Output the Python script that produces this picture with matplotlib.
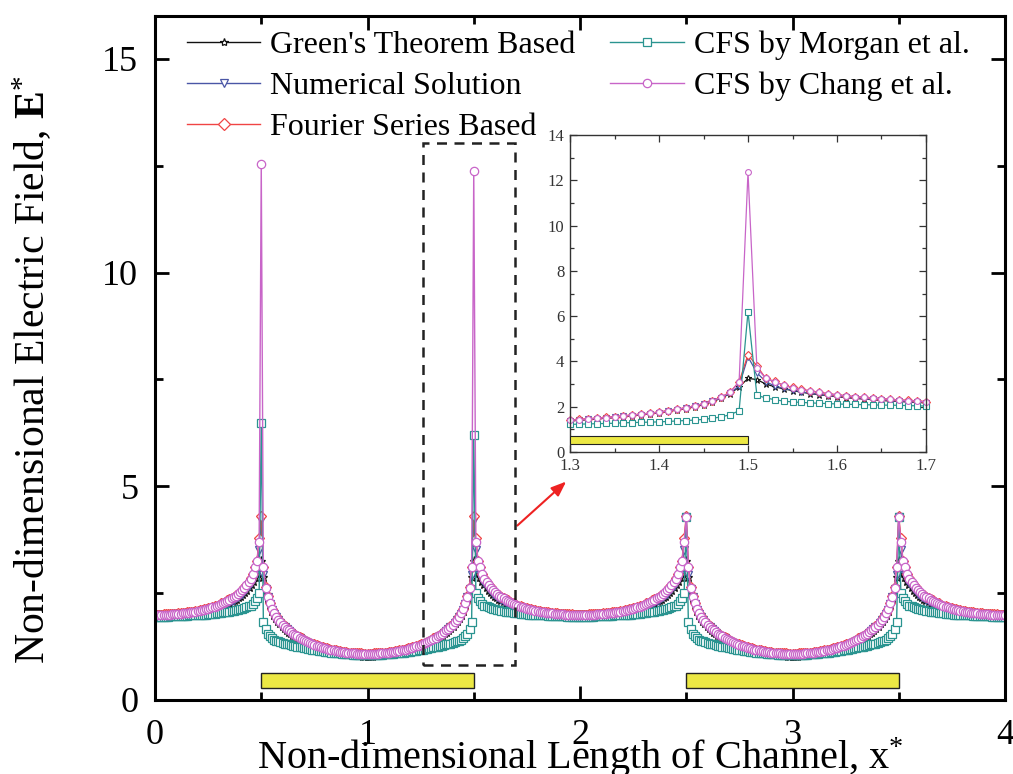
import numpy as np
import matplotlib
matplotlib.use("Agg")
import matplotlib.pyplot as plt
from matplotlib.lines import Line2D
from matplotlib.patches import Rectangle
from matplotlib.ticker import MultipleLocator

plt.rcParams['font.family'] = ['Liberation Serif', 'DejaVu Serif']
plt.rcParams['mathtext.fontset'] = 'custom'
plt.rcParams['mathtext.rm'] = 'Liberation Serif'
plt.rcParams['mathtext.it'] = 'Liberation Serif:italic'
plt.rcParams['mathtext.bf'] = 'Liberation Serif:bold'

# ---------------- data ----------------
# grid of channel positions (step 0.01)
x_vals = np.round(np.arange(0, 401) * 0.01, 2)
electrode_spans = [(0.5, 1.5), (2.5, 3.5)]

series_names = ["Green's Theorem Based", "Numerical Solution", "Fourier Series Based",
                "CFS by Morgan et al.", "CFS by Chang et al."]

# values at electrode edges x = 0.5, 1.5, 2.5, 3.5
green_peaks = [3.25, 3.25, 3.25, 3.25]
numer_peaks = [4.20, 4.20, 4.27, 4.27]
fourier_peaks = [4.30, 4.30, 4.30, 4.30]
morgan_peaks = [6.47, 6.19, 4.27, 4.27]
chang_peaks = [12.54, 12.37, 4.27, 4.27]

# profiles vs distance from an edge (0.01 ... 0.50) on the electrode side
green_elec = [2.87, 2.58, 2.38, 2.22, 2.09, 1.99, 1.92, 1.85, 1.79, 1.73,
              1.69, 1.64, 1.60, 1.56, 1.52, 1.49, 1.46, 1.43, 1.40, 1.37,
              1.35, 1.32, 1.30, 1.28, 1.26, 1.24, 1.23, 1.21, 1.19, 1.18,
              1.17, 1.15, 1.14, 1.13, 1.12, 1.11, 1.10, 1.09, 1.09, 1.08,
              1.07, 1.07, 1.06, 1.06, 1.05, 1.05, 1.05, 1.04, 1.04, 1.04]
numer_elec = [2.92, 2.60, 2.40, 2.24, 2.11, 2.01, 1.93, 1.86, 1.80, 1.74,
              1.70, 1.65, 1.61, 1.57, 1.53, 1.50, 1.47, 1.44, 1.41, 1.38,
              1.36, 1.33, 1.31, 1.29, 1.27, 1.25, 1.24, 1.22, 1.20, 1.19,
              1.18, 1.16, 1.15, 1.14, 1.13, 1.12, 1.11, 1.10, 1.10, 1.09,
              1.08, 1.08, 1.07, 1.07, 1.06, 1.06, 1.06, 1.05, 1.05, 1.05]
fourier_elec = [3.10, 2.65, 2.43, 2.27, 2.14, 2.04, 1.96, 1.89, 1.83, 1.77,
                1.72, 1.68, 1.64, 1.60, 1.56, 1.53, 1.50, 1.47, 1.44, 1.41,
                1.39, 1.36, 1.34, 1.32, 1.30, 1.28, 1.27, 1.25, 1.23, 1.22,
                1.21, 1.19, 1.18, 1.17, 1.16, 1.15, 1.14, 1.13, 1.13, 1.12,
                1.11, 1.11, 1.10, 1.10, 1.09, 1.09, 1.09, 1.08, 1.08, 1.08]
morgan_elec = [1.82, 1.65, 1.55, 1.49, 1.44, 1.41, 1.39, 1.37, 1.35, 1.33,
               1.32, 1.31, 1.30, 1.29, 1.27, 1.26, 1.25, 1.24, 1.23, 1.22,
               1.21, 1.20, 1.19, 1.18, 1.17, 1.16, 1.15, 1.15, 1.14, 1.13,
               1.12, 1.12, 1.11, 1.10, 1.10, 1.09, 1.09, 1.08, 1.08, 1.07,
               1.07, 1.07, 1.06, 1.06, 1.06, 1.06, 1.05, 1.05, 1.05, 1.05]
chang_elec = [3.10, 2.63, 2.42, 2.26, 2.13, 2.03, 1.95, 1.88, 1.82, 1.76,
              1.71, 1.67, 1.63, 1.59, 1.55, 1.52, 1.49, 1.46, 1.43, 1.40,
              1.38, 1.35, 1.33, 1.31, 1.29, 1.27, 1.26, 1.24, 1.22, 1.21,
              1.20, 1.18, 1.17, 1.16, 1.15, 1.14, 1.13, 1.12, 1.12, 1.11,
              1.10, 1.10, 1.09, 1.09, 1.08, 1.08, 1.08, 1.07, 1.07, 1.07]

# profiles vs distance from an edge (0.01 ... 0.50) on the gap side
green_gap = [3.20, 3.00, 2.88, 2.79, 2.71, 2.64, 2.58, 2.53, 2.48, 2.44,
             2.40, 2.37, 2.34, 2.31, 2.28, 2.25, 2.23, 2.21, 2.19, 2.17,
             2.15, 2.14, 2.12, 2.11, 2.10, 2.08, 2.07, 2.06, 2.05, 2.05,
             2.04, 2.03, 2.03, 2.02, 2.02, 2.01, 2.01, 2.01, 2.00, 2.00,
             2.00, 2.00, 1.99, 1.99, 1.99, 1.99, 1.99, 1.99, 1.99, 1.99]
numer_gap = [3.50, 3.10, 2.92, 2.81, 2.73, 2.66, 2.60, 2.54, 2.49, 2.45,
             2.41, 2.38, 2.35, 2.32, 2.29, 2.26, 2.24, 2.22, 2.20, 2.18,
             2.16, 2.15, 2.13, 2.12, 2.11, 2.09, 2.08, 2.07, 2.06, 2.06,
             2.05, 2.04, 2.04, 2.03, 2.03, 2.02, 2.02, 2.02, 2.01, 2.01,
             2.01, 2.01, 2.00, 2.00, 2.00, 2.00, 2.00, 2.00, 2.00, 2.00]
fourier_gap = [3.80, 3.25, 3.12, 2.95, 2.85, 2.77, 2.70, 2.64, 2.58, 2.53,
               2.49, 2.45, 2.42, 2.39, 2.36, 2.33, 2.30, 2.28, 2.26, 2.23,
               2.21, 2.19, 2.18, 2.16, 2.15, 2.13, 2.12, 2.11, 2.10, 2.09,
               2.08, 2.07, 2.06, 2.05, 2.05, 2.04, 2.04, 2.03, 2.03, 2.02,
               2.02, 2.02, 2.01, 2.01, 2.01, 2.01, 2.00, 2.00, 2.00, 2.00]
morgan_gap = [2.50, 2.39, 2.31, 2.25, 2.21, 2.19, 2.17, 2.15, 2.14, 2.12,
              2.11, 2.10, 2.09, 2.08, 2.07, 2.07, 2.06, 2.05, 2.04, 2.03,
              2.03, 2.02, 2.02, 2.01, 2.01, 2.00, 2.00, 2.00, 1.99, 1.99,
              1.99, 1.98, 1.98, 1.98, 1.97, 1.97, 1.97, 1.97, 1.96, 1.96,
              1.96, 1.96, 1.96, 1.95, 1.95, 1.95, 1.95, 1.95, 1.95, 1.95]
chang_gap = [3.70, 3.25, 3.10, 2.94, 2.84, 2.76, 2.69, 2.63, 2.57, 2.52,
             2.48, 2.44, 2.41, 2.38, 2.35, 2.32, 2.29, 2.27, 2.25, 2.22,
             2.20, 2.18, 2.17, 2.15, 2.14, 2.12, 2.11, 2.10, 2.09, 2.08,
             2.07, 2.06, 2.05, 2.04, 2.04, 2.03, 2.03, 2.02, 2.02, 2.01,
             2.01, 2.01, 2.00, 2.00, 2.00, 2.00, 1.99, 1.99, 1.99, 1.99]

colors = ["#111111", "#4a56a6", "#f04444", "#2a9490", "#c865c8"]
markers = ["*", "v", "D", "s", "o"]


def assemble(elec, gap, peaks):
    out = []
    for i in range(len(x_vals)):
        p, k = divmod(i, 200)
        if k < 50:
            out.append(gap[50 - k - 1])
        elif k == 50:
            out.append(peaks[2 * p])
        elif k < 150:
            out.append(elec[min(k - 50, 150 - k) - 1])
        elif k == 150:
            out.append(peaks[2 * p + 1])
        else:
            out.append(gap[k - 150 - 1])
    return np.array(out)


series = [assemble(green_elec, green_gap, green_peaks),
          assemble(numer_elec, numer_gap, numer_peaks),
          assemble(fourier_elec, fourier_gap, fourier_peaks),
          assemble(morgan_elec, morgan_gap, morgan_peaks),
          assemble(chang_elec, chang_gap, chang_peaks)]

# ---------------- figure ----------------
fig = plt.figure(figsize=(10.13, 7.74), dpi=100)
ax = fig.add_axes([155 / 1013, 74 / 774, 850 / 1013, 684 / 774])

msizes = [6.5, 5.5, 5.0, 5.5, 6.0]
for y, c, m, ms in zip(series, colors, markers, msizes):
    ax.plot(x_vals, y, color=c, lw=1.0, marker=m, ms=ms, mfc='white', mec=c, mew=0.9)

for (a, b) in electrode_spans:
    ax.add_patch(Rectangle((a, 0.28), b - a, 0.35, facecolor='#ece844',
                           edgecolor='#222222', lw=1.0, zorder=5))

ax.add_patch(Rectangle((1.262, 0.82), 0.433, 12.21, fill=False, edgecolor='#222222',
                       lw=1.8, ls=(0, (4, 3)), zorder=6))
ax.annotate('', xy=(1.935, 5.11), xytext=(1.705, 4.08),
            arrowprops=dict(arrowstyle='-|>,head_length=0.9,head_width=0.35',
                            color='#ee2222', lw=1.5, shrinkA=0, shrinkB=0))

ax.set_xlim(0, 4)
ax.set_ylim(0, 16)
ax.xaxis.set_major_locator(MultipleLocator(1))
ax.xaxis.set_minor_locator(MultipleLocator(0.5))
ax.yaxis.set_major_locator(MultipleLocator(5))
ax.yaxis.set_minor_locator(MultipleLocator(2.5))
ax.tick_params(which='both', direction='in', top=True, right=True, width=2.0)
ax.tick_params(which='major', length=10, labelsize=26)
ax.tick_params(axis='x', which='major', pad=14)
ax.tick_params(axis='y', which='major', pad=12)
ax.tick_params(which='minor', length=6)
for s in ax.spines.values():
    s.set_linewidth(2.2)

ax.set_xlabel(r"Non-dimensional Length of Channel, x$^{*}$", fontsize=29)
ax.xaxis.label.set_verticalalignment('baseline')
ax.xaxis.set_label_coords(0.5, -0.1009)
ax.set_ylabel(r"Non-dimensional Electric Field, $\mathbf{E}^{*}$", fontsize=30)
ax.yaxis.set_label_coords(-0.119, 0.4825)

handles = [Line2D([], [], color=c, lw=1.0, marker=m, ms=6, mfc='white', mec=c, mew=0.9)
           for c, m in zip(colors, markers)]
leg = ax.legend(handles, series_names,
                ncol=2, loc='upper left', bbox_to_anchor=(0.03, 0.988), frameon=False,
                fontsize=23, handlelength=2.3, handletextpad=0.3, labelspacing=0.36,
                columnspacing=1.1, borderaxespad=0, borderpad=0.2)

# ---------------- inset ----------------
axi = fig.add_axes([570 / 1013, (774 - 452) / 774, 356 / 1013, 317 / 774])
ins_sizes = [5.0, 4.0, 3.8, 3.8, 4.2]
mask = (x_vals >= 1.3) & (x_vals <= 1.7)
for y, c, m, ms in zip(series, colors, markers, ins_sizes):
    axi.plot(x_vals[mask], y[mask], color=c, lw=0.9, marker=m, ms=ms, mfc='white',
             mec=c, mew=0.8, clip_on=False)
axi.add_patch(Rectangle((1.3, 0.35), 0.2, 0.35, facecolor='#ece844',
                        edgecolor='#222222', lw=0.8, zorder=5))
axi.set_xlim(1.3, 1.7)
axi.set_ylim(0, 14)
axi.xaxis.set_major_locator(MultipleLocator(0.1))
axi.xaxis.set_minor_locator(MultipleLocator(0.05))
axi.yaxis.set_major_locator(MultipleLocator(2))
axi.yaxis.set_minor_locator(MultipleLocator(1))
axi.tick_params(which='both', direction='in', top=True, right=True, width=0.9,
                colors='#333333', labelcolor='#333333')
axi.tick_params(which='major', length=5, labelsize=12, pad=4)
axi.tick_params(which='minor', length=3)
for s in axi.spines.values():
    s.set_linewidth(1.0)
    s.set_color('#333333')

fig.savefig("out.png", dpi=100)
